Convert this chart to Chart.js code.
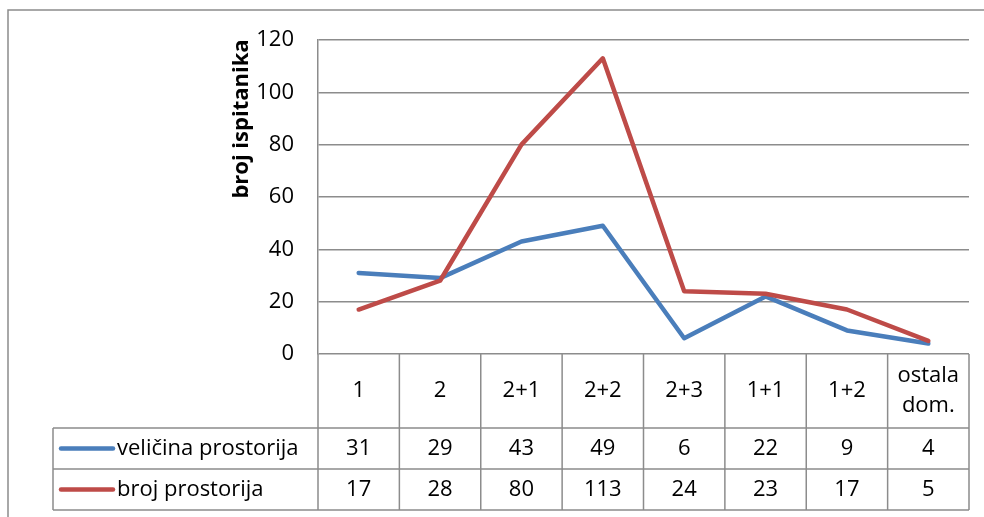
<!DOCTYPE html>
<html>
<head>
<meta charset="utf-8">
<script src="https://cdn.jsdelivr.net/npm/chart.js@4/dist/chart.umd.min.js"></script>
<style>
  html, body { margin: 0; padding: 0; background: #ffffff; }
  #wrap { width: 984px; height: 517px; }
</style>
</head>
<body>
<div id="wrap"><canvas id="c" width="984" height="517"></canvas></div>
<script>
// Categories (room types) and the two series of respondent counts
const categories = ['1', '2', '2+1', '2+2', '2+3', '1+1', '1+2', ['ostala', 'dom.']];
const velicinaProstorija = [31, 29, 43, 49, 6, 22, 9, 4];
const brojProstorija = [17, 28, 80, 113, 24, 23, 17, 5];
const seriesNames = ['veličina prostorija', 'broj prostorija'];
const yAxisTitle = 'broj ispitanika';

const FONT = '"Open Sans", "Noto Sans", sans-serif';
const FONT_SIZE = 22;
const GRID = '#8c8c8c';
const BLUE = '#4A7EBB';
const RED = '#BE4B48';

// Data table under the plot, plus the outer frame and the rotated axis title
const tablePlugin = {
  id: 'dataTable',
  beforeDraw(chart) {
    const ctx = chart.ctx;
    ctx.save();
    ctx.fillStyle = '#ffffff';
    ctx.fillRect(0, 0, chart.width, chart.height);
    ctx.strokeStyle = GRID;
    ctx.lineWidth = 1.5;
    ctx.beginPath();
    ctx.moveTo(8, chart.height);
    ctx.lineTo(8, 10);
    ctx.lineTo(chart.width, 10);
    ctx.stroke();
    ctx.restore();
  },
  afterDraw(chart) {
    const ctx = chart.ctx;
    const area = chart.chartArea;
    const xs = chart.scales.x;
    const n = categories.length;
    const headerBottom = 428;
    const row1Bottom = 469;
    const tableBottom = 510;
    const legendLeft = 53;

    // column boundaries derived from the category scale
    const edges = [area.left];
    for (let i = 0; i < n - 1; i++) {
      edges.push((xs.getPixelForValue(i) + xs.getPixelForValue(i + 1)) / 2);
    }
    edges.push(area.right);

    ctx.save();
    ctx.strokeStyle = GRID;
    ctx.lineWidth = 1.5;
    ctx.beginPath();
    edges.forEach((x) => {
      ctx.moveTo(x, area.bottom);
      ctx.lineTo(x, tableBottom);
    });
    [headerBottom, row1Bottom, tableBottom].forEach((y) => {
      ctx.moveTo(legendLeft, y);
      ctx.lineTo(area.right, y);
    });
    ctx.moveTo(legendLeft, headerBottom);
    ctx.lineTo(legendLeft, tableBottom);
    ctx.stroke();

    // header: category names
    ctx.fillStyle = '#000000';
    ctx.font = FONT_SIZE + 'px ' + FONT;
    ctx.textAlign = 'center';
    ctx.textBaseline = 'middle';
    const headerMid = (area.bottom + headerBottom) / 2;
    categories.forEach((c, i) => {
      const x = (edges[i] + edges[i + 1]) / 2;
      if (Array.isArray(c)) {
        const lh = 30;
        c.forEach((line, j) => {
          ctx.fillText(line, x, headerMid + (j - (c.length - 1) / 2) * lh);
        });
      } else {
        ctx.fillText(c, x, headerMid);
      }
    });

    // value rows with legend keys
    const rows = [
      { name: seriesNames[0], data: velicinaProstorija, color: BLUE, top: headerBottom, bottom: row1Bottom },
      { name: seriesNames[1], data: brojProstorija, color: RED, top: row1Bottom, bottom: tableBottom }
    ];
    rows.forEach((r) => {
      const mid = (r.top + r.bottom) / 2;
      r.data.forEach((v, i) => {
        ctx.textAlign = 'center';
        ctx.fillText(String(v), (edges[i] + edges[i + 1]) / 2, mid);
      });
      ctx.strokeStyle = r.color;
      ctx.lineWidth = 4.5;
      ctx.lineCap = 'round';
      ctx.beginPath();
      ctx.moveTo(61, mid);
      ctx.lineTo(113, mid);
      ctx.stroke();
      ctx.textAlign = 'left';
      ctx.fillText(r.name, 117, mid);
    });

    // rotated y-axis title
    ctx.font = 'bold ' + FONT_SIZE + 'px ' + FONT;
    ctx.textAlign = 'center';
    ctx.textBaseline = 'middle';
    ctx.translate(242, 119);
    ctx.rotate(-Math.PI / 2);
    ctx.fillText(yAxisTitle, 0, 0);
    ctx.restore();
  }
};

new Chart(document.getElementById('c'), {
  type: 'line',
  data: {
    labels: categories,
    datasets: [
      {
        label: seriesNames[0],
        data: velicinaProstorija,
        borderColor: BLUE,
        backgroundColor: BLUE,
        borderWidth: 4.5,
        pointRadius: 0,
        tension: 0,
        borderCapStyle: 'round',
        borderJoinStyle: 'round',
        order: 1
      },
      {
        label: seriesNames[1],
        data: brojProstorija,
        borderColor: RED,
        backgroundColor: RED,
        borderWidth: 4.5,
        pointRadius: 0,
        tension: 0,
        borderCapStyle: 'round',
        borderJoinStyle: 'round',
        order: 0
      }
    ]
  },
  options: {
    responsive: false,
    animation: false,
    devicePixelRatio: 1,
    layout: { padding: { top: 40, right: 15, bottom: 163, left: 0 } },
    plugins: {
      legend: { display: false },
      title: { display: false },
      tooltip: { enabled: false }
    },
    scales: {
      x: {
        type: 'category',
        offset: true,
        display: false
      },
      y: {
        min: 0,
        max: 120,
        afterFit(scale) { scale.width = 318; },
        ticks: {
          stepSize: 20,
          color: '#000000',
          padding: 24,
          font: { family: FONT, size: FONT_SIZE }
        },
        grid: {
          color: GRID,
          lineWidth: 1.5,
          drawTicks: false
        },
        border: { display: true, color: GRID, width: 1.5 }
      }
    }
  },
  plugins: [tablePlugin]
});
</script>
</body>
</html>
